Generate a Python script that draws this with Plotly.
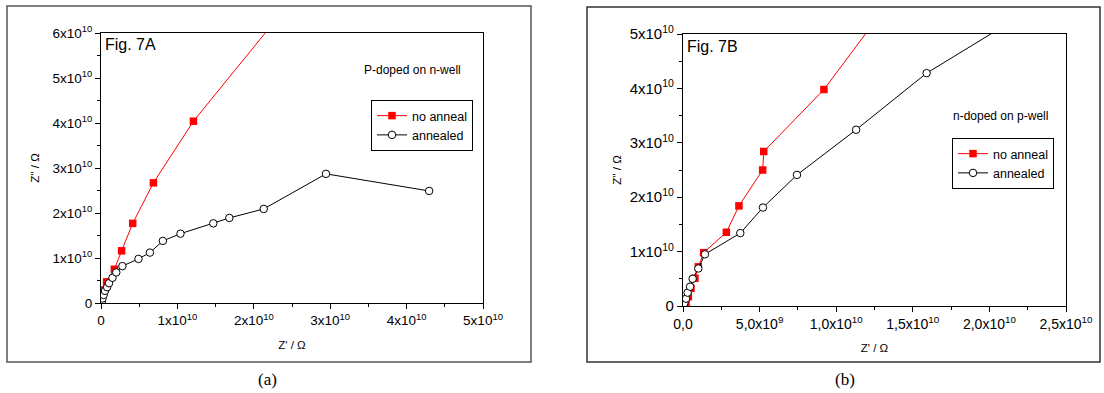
import plotly.graph_objects as go

W, H = 1104, 393

# ---- Data (values in units of 1e10 Ohm) ----
a_noanneal_x = [0.01, 0.03, 0.074, 0.175, 0.27, 0.415, 0.686, 1.21, 2.6]
a_noanneal_y = [0.1, 0.29, 0.47, 0.75, 1.16, 1.77, 2.67, 4.04, 6.94]
a_anneal_x = [0.01, 0.02, 0.035, 0.052, 0.08, 0.105, 0.15, 0.2, 0.28, 0.49, 0.64, 0.81, 1.04, 1.47, 1.68, 2.13, 2.945, 4.295]
a_anneal_y = [0.03, 0.1, 0.18, 0.27, 0.35, 0.44, 0.56, 0.68, 0.82, 0.98, 1.12, 1.38, 1.54, 1.77, 1.89, 2.09, 2.87, 2.49]

b_noanneal_x = [0.01, 0.02, 0.035, 0.052, 0.078, 0.1, 0.135, 0.283, 0.365, 0.52, 0.527, 0.92, 1.35]
b_noanneal_y = [0.0, 0.05, 0.17, 0.325, 0.51, 0.72, 0.98, 1.355, 1.84, 2.5, 2.84, 3.98, 5.6]
b_anneal_x = [0.008, 0.02, 0.03, 0.046, 0.063, 0.1, 0.143, 0.374, 0.522, 0.744, 1.13, 1.59, 2.3]
b_anneal_y = [0.05, 0.135, 0.245, 0.355, 0.5, 0.69, 0.95, 1.34, 1.81, 2.41, 3.24, 4.28, 5.5]

a_xticks = [0, 1, 2, 3, 4, 5]
a_xticktext = ["0", "1x10<sup>10</sup>", "2x10<sup>10</sup>", "3x10<sup>10</sup>", "4x10<sup>10</sup>", "5x10<sup>10</sup>"]
a_yticks = [0, 1, 2, 3, 4, 5, 6]
a_yticktext = ["0", "1x10<sup>10</sup>", "2x10<sup>10</sup>", "3x10<sup>10</sup>", "4x10<sup>10</sup>", "5x10<sup>10</sup>", "6x10<sup>10</sup>"]
b_xticks = [0, 0.5, 1.0, 1.5, 2.0, 2.5]
b_xticktext = ["0,0", "5,0x10<sup>9</sup>", "1,0x10<sup>10</sup>", "1,5x10<sup>10</sup>", "2,0x10<sup>10</sup>", "2,5x10<sup>10</sup>"]
b_yticks = [0, 1, 2, 3, 4, 5]
b_yticktext = ["0", "1x10<sup>10</sup>", "2x10<sup>10</sup>", "3x10<sup>10</sup>", "4x10<sup>10</sup>", "5x10<sup>10</sup>"]

FONT = "Liberation Sans, Arial, sans-serif"
RED = "#ff0000"


def px_x(p):
    return p / W


def px_y(p):
    return 1 - p / H


fig = go.Figure()

red_marker = dict(symbol="square", size=7.5, color=RED, line=dict(width=0))
blk_marker = dict(symbol="circle", size=7.5, color="white", line=dict(color="black", width=1))

fig.add_trace(go.Scatter(x=a_noanneal_x, y=a_noanneal_y, mode="lines+markers", name="no anneal",
                         line=dict(color=RED, width=1), marker=red_marker, xaxis="x", yaxis="y", legend="legend"))
fig.add_trace(go.Scatter(x=a_anneal_x, y=a_anneal_y, mode="lines+markers", name="annealed",
                         line=dict(color="black", width=1), marker=blk_marker,
                         xaxis="x", yaxis="y", legend="legend"))
fig.add_trace(go.Scatter(x=b_noanneal_x, y=b_noanneal_y, mode="lines+markers", name="no anneal",
                         line=dict(color=RED, width=1), marker=red_marker, xaxis="x2", yaxis="y2", legend="legend2"))
fig.add_trace(go.Scatter(x=b_anneal_x, y=b_anneal_y, mode="lines+markers", name="annealed",
                         line=dict(color="black", width=1), marker=blk_marker,
                         xaxis="x2", yaxis="y2", legend="legend2"))


def axis(tsize, **kw):
    d = dict(showgrid=False, zeroline=False, showline=True, linecolor="black", linewidth=1.2,
             mirror=True, ticks="outside", ticklen=5, tickwidth=1, tickcolor="black",
             automargin=False,
             tickfont=dict(family=FONT, size=tsize, color="black"))
    d.update(kw)
    return d


def minor(dt):
    return dict(ticks="outside", ticklen=3, tickwidth=1, tickcolor="black", dtick=dt, tick0=0)


fig.update_layout(
    width=W, height=H, margin=dict(l=0, r=0, t=0, b=0, autoexpand=False),
    paper_bgcolor="white", plot_bgcolor="white",
    font=dict(family=FONT, color="black"),
    xaxis=axis(13.5, domain=[px_x(101), px_x(483)], range=[0, 5], tickvals=a_xticks, ticktext=a_xticktext,
               minor=minor(0.5), anchor="y",
               title=dict(text="Z' / Ω", font=dict(size=11.5), standoff=13)),
    yaxis=axis(13.5, domain=[px_y(303), px_y(33)], range=[0, 6], tickvals=a_yticks, ticktext=a_yticktext,
               minor=minor(0.5), anchor="x",
               title=dict(text="Z'' / Ω", font=dict(size=11.5), standoff=10)),
    xaxis2=axis(14, domain=[px_x(683), px_x(1066)], range=[0, 2.5], tickvals=b_xticks, ticktext=b_xticktext,
                minor=minor(0.25), anchor="y2",
                title=dict(text="Z' / Ω", font=dict(size=11.5), standoff=13)),
    yaxis2=axis(15, domain=[px_y(306), px_y(34)], range=[0, 5], tickvals=b_yticks, ticktext=b_yticktext,
                minor=minor(0.5), anchor="x2",
                title=dict(text="Z'' / Ω", font=dict(size=11.5), standoff=5)),
    legend=dict(x=px_x(371), y=px_y(100), xanchor="left", yanchor="top", bgcolor="white",
                bordercolor="black", borderwidth=1, font=dict(family=FONT, size=12.5),
                tracegroupgap=0, itemwidth=30),
    legend2=dict(x=px_x(952), y=px_y(138), xanchor="left", yanchor="top", bgcolor="white",
                 bordercolor="black", borderwidth=1, font=dict(family=FONT, size=12.5),
                 tracegroupgap=0, itemwidth=30),
    showlegend=True,
)

# outer panel frames
fig.add_shape(type="rect", xref="paper", yref="paper", x0=px_x(7), x1=px_x(531), y0=px_y(362), y1=px_y(6),
              line=dict(color="#555555", width=1.5), layer="below")
fig.add_shape(type="rect", xref="paper", yref="paper", x0=px_x(587), x1=px_x(1100), y0=px_y(362), y1=px_y(7),
              line=dict(color="#333333", width=1.5), layer="below")

ann = [
    dict(text="Fig. 7A", x=px_x(103), y=px_y(45), size=16, xanchor="left", family=FONT),
    dict(text="P-doped on n-well", x=px_x(362), y=px_y(70), size=12, xanchor="left", family=FONT),
    dict(text="Fig. 7B", x=px_x(685), y=px_y(46), size=16, xanchor="left", family=FONT),
    dict(text="n-doped on p-well", x=px_x(951), y=px_y(116), size=12, xanchor="left", family=FONT),
    dict(text="(a)", x=px_x(267), y=px_y(379), size=17, xanchor="center", family="Liberation Serif, Times New Roman, serif"),
    dict(text="(b)", x=px_x(845), y=px_y(379), size=17, xanchor="center", family="Liberation Serif, Times New Roman, serif"),
]
for a in ann:
    fig.add_annotation(text=a["text"], x=a["x"], y=a["y"], xref="paper", yref="paper", showarrow=False,
                       xanchor=a["xanchor"], yanchor="middle", font=dict(family=a["family"], size=a["size"], color="black"))

fig.write_html("out.html", config={"displayModeBar": False},
               post_script="document.body.style.margin='0';document.body.style.overflow='hidden';")
